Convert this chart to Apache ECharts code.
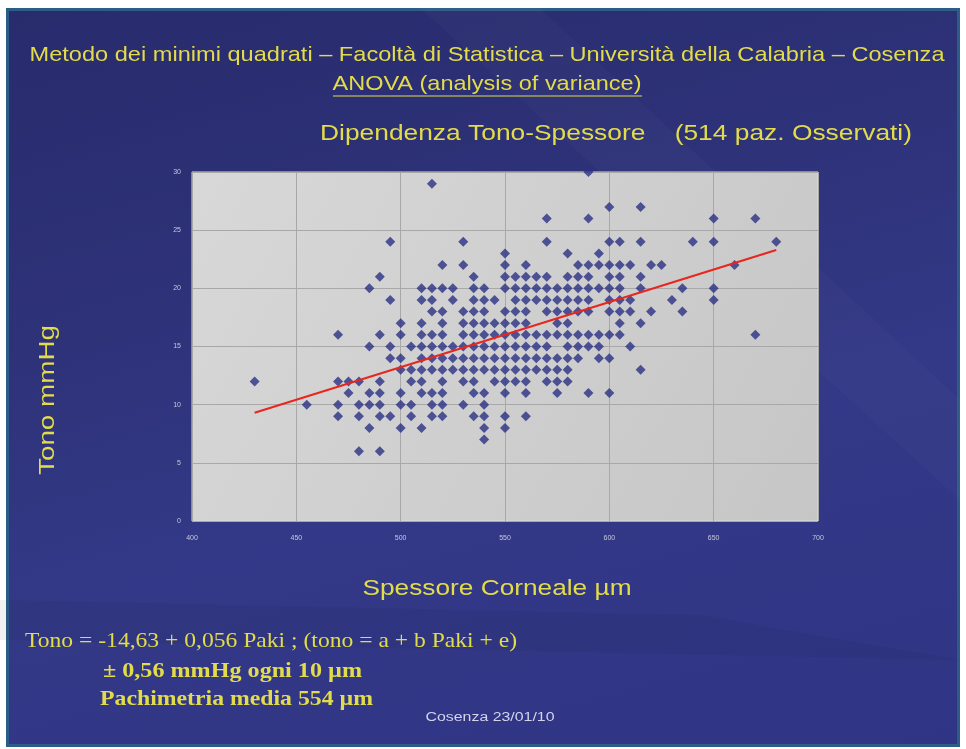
<!DOCTYPE html>
<html>
<head>
<meta charset="utf-8">
<script src="https://cdn.jsdelivr.net/npm/echarts@6/dist/echarts.min.js"></script>
<style>
html,body{margin:0;padding:0;background:#ffffff;}
#frame{position:absolute;left:6px;top:8px;width:948px;height:733px;border:3px solid #2c5d88;
background:linear-gradient(165deg,#282b6c 0%,#2e3279 35%,#333987 60%,#2f3584 100%);overflow:hidden;}
#chart{position:absolute;left:0;top:0;width:966px;height:749px;}
</style>
</head>
<body>
<div id="frame"></div>
<div id="chart"></div>
<script>
// Data
const xTicks = [400, 450, 500, 550, 600, 650, 700];
const yTicks = [0, 5, 10, 15, 20, 25, 30];
const tonoLevels = [30, 29, 27, 26, 24, 23, 22, 21, 20, 19, 18, 17, 16, 15, 14, 13, 12, 11, 10, 9, 8, 7, 6];
const spessoreByLevel = [
  [590],
  [515],
  [600, 615],
  [570, 590, 650, 670],
  [495, 530, 570, 600, 605, 615, 640, 650, 680],
  [550, 580, 595],
  [520, 530, 550, 560, 585, 590, 595, 600, 605, 610, 620, 625, 660],
  [490, 535, 550, 555, 560, 565, 570, 580, 585, 590, 600, 605, 615],
  [485, 510, 515, 520, 525, 535, 540, 550, 555, 560, 565, 570, 575, 580, 585, 590, 595, 600, 605, 615, 635, 650],
  [495, 510, 515, 525, 535, 540, 545, 555, 560, 565, 570, 575, 580, 585, 590, 600, 605, 610, 630, 650],
  [515, 520, 530, 535, 540, 550, 555, 560, 570, 575, 580, 585, 590, 600, 605, 610, 620, 635],
  [500, 510, 520, 530, 535, 540, 545, 550, 555, 560, 575, 580, 605, 615],
  [470, 490, 500, 510, 515, 520, 530, 535, 540, 545, 550, 555, 560, 565, 570, 575, 580, 585, 590, 595, 600, 605, 670],
  [485, 495, 505, 510, 515, 520, 525, 530, 535, 540, 545, 550, 555, 560, 565, 570, 580, 585, 590, 595, 610],
  [495, 500, 510, 515, 520, 525, 530, 535, 540, 545, 550, 555, 560, 565, 570, 575, 580, 585, 595, 600],
  [500, 505, 510, 515, 520, 525, 530, 535, 540, 545, 550, 555, 560, 565, 570, 575, 580, 615],
  [430, 470, 475, 480, 490, 505, 510, 520, 530, 535, 545, 550, 555, 560, 570, 575, 580],
  [475, 485, 490, 500, 510, 515, 520, 535, 540, 550, 560, 575, 590, 600],
  [455, 470, 480, 485, 490, 500, 505, 515, 520, 530, 540],
  [470, 480, 490, 495, 505, 515, 520, 535, 540, 550, 560],
  [485, 500, 510, 540, 550],
  [540],
  [480, 490]
];
const trendSpessore = [430, 680];
const trendTono = [9.3, 23.3];

const points = [];
tonoLevels.forEach((t, i) => spessoreByLevel[i].forEach(s => points.push([s, t])));
const trend = trendSpessore.map((s, i) => [s, trendTono[i]]);

const yellow = '#e2dc4a';
const measureCtx = document.createElement('canvas').getContext('2d');
function fitText(text, font, x, y, targetWidth, align, fill, extra) {
  measureCtx.font = font;
  const w = measureCtx.measureText(text).width;
  const el = {
    type: 'text', x: x, y: y, scaleX: targetWidth / w,
    style: {text: text, font: font, fill: fill || yellow, textAlign: align || 'left', textVerticalAlign: 'middle'}
  };
  return Object.assign(el, extra || {});
}

const chart = echarts.init(document.getElementById('chart'), null, {renderer: 'canvas'});
chart.setOption({
  animation: false,
  backgroundColor: 'transparent',
  grid: {
    left: 192, top: 172, width: 626, height: 349, show: true,
    borderColor: '#dcdcdc', borderWidth: 1,
    backgroundColor: new echarts.graphic.LinearGradient(0, 0, 1, 1, [
      {offset: 0, color: '#d8d8d8'}, {offset: 1, color: '#c6c6c6'}])
  },
  xAxis: {
    type: 'value', min: xTicks[0], max: xTicks[xTicks.length - 1], interval: 50,
    axisLine: {show: false}, axisTick: {show: false},
    splitLine: {show: true, lineStyle: {color: '#a8a8a8', width: 1}},
    axisLabel: {color: '#c8c8dc', fontSize: 7, margin: 14, fontFamily: 'Liberation Sans'}
  },
  yAxis: {
    type: 'value', min: yTicks[0], max: yTicks[yTicks.length - 1], interval: 5,
    axisLine: {show: false}, axisTick: {show: false},
    splitLine: {show: true, lineStyle: {color: '#a8a8a8', width: 1}},
    axisLabel: {color: '#c8c8dc', fontSize: 7, margin: 11, fontFamily: 'Liberation Sans'}
  },
  series: [
    {
      type: 'scatter', data: points, symbol: 'diamond', symbolSize: 10,
      itemStyle: {color: '#2b3184'}, z: 2
    },
    {
      type: 'line', data: trend, symbol: 'none',
      lineStyle: {color: '#e8261e', width: 2}, z: 3
    }
  ],
  graphic: [
    {type: 'polygon', silent: true, z: -10, shape: {points: [[420, 8], [540, 8], [960, 400], [960, 500]]},
      style: {fill: 'rgba(255,255,255,0.018)'}},
    {type: 'polygon', silent: true, z: -10, shape: {points: [[0, 600], [700, 615], [960, 660], [0, 640]]},
      style: {fill: 'rgba(0,0,0,0.05)'}},
    fitText('Metodo dei minimi quadrati – Facoltà di Statistica – Università della Calabria – Cosenza', '21px "Liberation Sans"', 487, 55, 915, 'center'),
    fitText('ANOVA (analysis of variance)', '21px "Liberation Sans"', 487, 84, 309, 'center'),
    {type: 'line', shape: {x1: 333, y1: 96, x2: 642, y2: 96}, style: {stroke: yellow, lineWidth: 1.2}},
    fitText('Dipendenza Tono-Spessore    (514 paz. Osservati)', '22px "Liberation Sans"', 320, 134, 592, 'left'),
    fitText('Tono mmHg', '22px "Liberation Sans"', 48, 400, 150, 'center', yellow, {rotation: Math.PI / 2}),
    fitText('Spessore Corneale µm', '22px "Liberation Sans"', 497, 589, 269, 'center'),
    fitText('Tono = -14,63 + 0,056 Paki ; (tono = a + b Paki + e)', '21px "Liberation Serif"', 25, 641, 492, 'left'),
    fitText('± 0,56 mmHg ogni 10 µm', 'bold 21px "Liberation Serif"', 103, 672, 259, 'left'),
    fitText('Pachimetria media 554 µm', 'bold 21px "Liberation Serif"', 100, 700, 273, 'left'),
    fitText('Cosenza 23/01/10', '12px "Liberation Sans"', 490, 718, 129, 'center', '#d4d4ec')
  ]
});
</script>
</body>
</html>
